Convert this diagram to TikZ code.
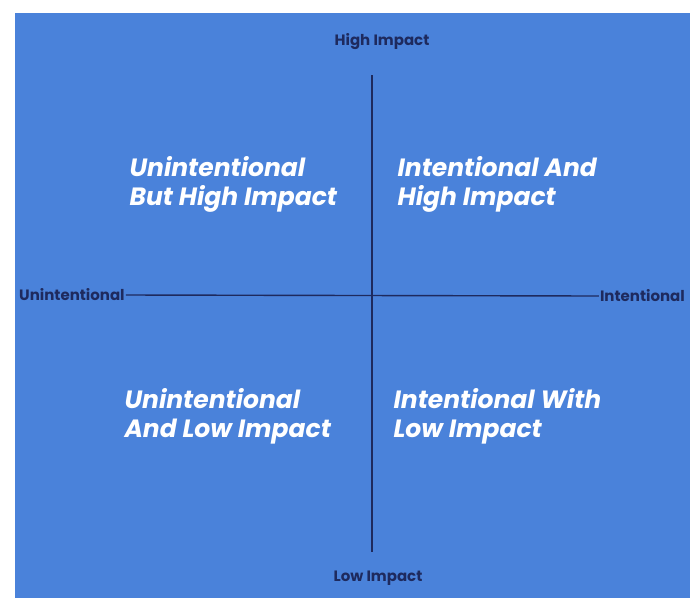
\documentclass[tikz,border=0pt]{standalone}
\usepackage{fontspec}
\setmainfont{Poppins}
\definecolor{slide}{HTML}{4A82DA}
\definecolor{axis}{HTML}{1E2A5E}
\begin{document}
\begin{tikzpicture}[x=1pt,y=-1pt,
  quad/.style={text=white,font=\fontsize{25}{29}\selectfont\bfseries\itshape,align=left,anchor=west},
  axlabel/.style={text=axis,font=\fontsize{15}{17}\selectfont\bfseries,inner sep=1pt}]
\useasboundingbox (0,0) rectangle (690,598);
\fill[white] (0,0) rectangle (690,598);
\fill[slide] (15,13) rectangle (690,598);
\node[axlabel] (hi) at (382,42) {High Impact};
\node[axlabel] (lo) at (378,578) {Low Impact};
\node[axlabel,anchor=west] (un) at (18,295) {Unintentional};
\node[axlabel,anchor=east] (in) at (686,296) {Intentional};
\draw[axis,line width=1.6pt] (372,75) -- (372,552);
\draw[axis,line width=1.4pt] (un.east) -- (in.west);
\node[quad] (q1) at (126,184) {Unintentional\\But High Impact};
\node[quad] (q2) at (394,184) {Intentional And\\High Impact};
\node[quad] (q3) at (121,416) {Unintentional\\And Low Impact};
\node[quad] (q4) at (390,416) {Intentional With\\Low Impact};
\end{tikzpicture}
\end{document}
